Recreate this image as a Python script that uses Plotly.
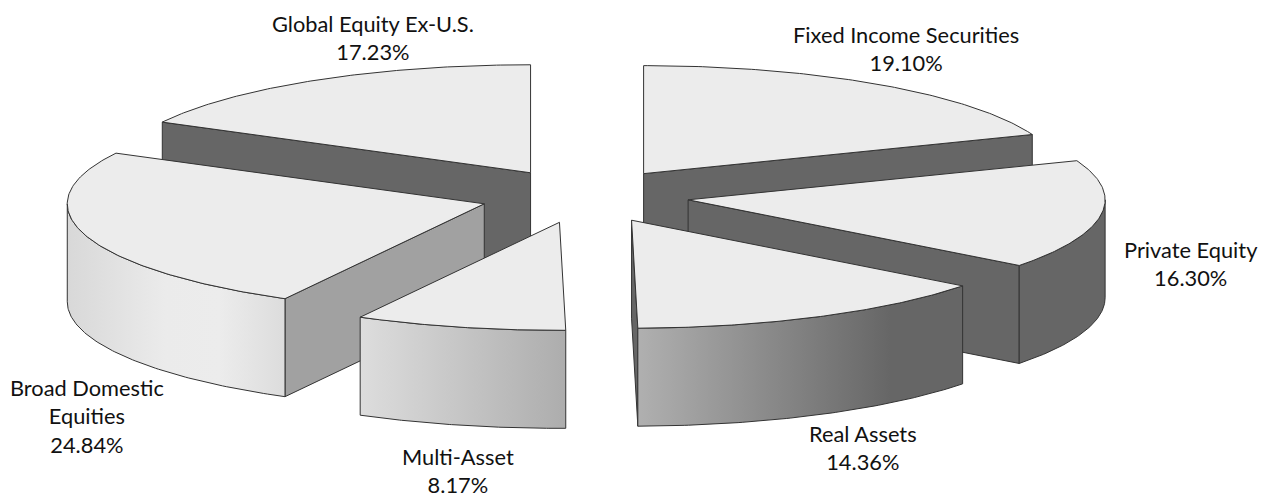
import numpy as np
import plotly.graph_objects as go

# ---- data ----
categories = ["Fixed Income Securities", "Private Equity", "Real Assets",
              "Multi-Asset", "Broad Domestic<br>Equities", "Global Equity Ex-U.S."]
shares = [19.10, 16.30, 14.36, 8.17, 24.84, 17.23]

# ---- geometry of the exploded tilted pie (pixels) ----
CX, CY = 584.5, 196.0
RX, RY = 417.0, 108.0
DEPTH = 98.0
EXPLODE = 0.251
PAGE_MARGIN = 8  # the browser's default body margin

TOP = "#ececec"
DARK = "#666666"
EDGE = "#333333"
cut_colour = [DARK, DARK, DARK, DARK, "#a1a1a1", DARK]
wall_scale = [
    [[0, DARK], [1, DARK]],
    [[0, DARK], [1, DARK]],
    [[0, "#b0b0b0"], [0.78, DARK], [1, DARK]],
    [[0, "#dddddd"], [1, "#adadad"]],
    [[0, "#d8d8d8"], [0.45, "#ebebeb"], [0.7, "#ececec"], [1, "#dcdcdc"]],
    [[0, DARK], [1, DARK]],
]
label_pos = [(906, 48), (1191, 263), (863, 447), (458, 470), (87, 416), (373, 37)]
draw_order = [5, 0, 4, 1, 3, 2]

total = sum(shares)
edges = np.cumsum([0] + shares) / total * 2 * np.pi


def rim(ax, ay, t):
    return ax + RX * np.sin(t), ay - RY * np.cos(t)


def poly(x, y, **kw):
    x = list(x) + [x[0]]
    y = list(y) + [y[0]]
    return go.Scatter(x=x, y=y, mode="lines", fill="toself", hoverinfo="skip",
                      showlegend=False, line=dict(color=EDGE, width=1), **kw)


fig = go.Figure()
for i in draw_order:
    a0, a1 = edges[i], edges[i + 1]
    mid = (a0 + a1) / 2
    ax = CX + EXPLODE * RX * np.sin(mid)
    ay = CY - EXPLODE * RY * np.cos(mid)

    # cut faces that look at the viewer
    for ang, visible in ((a0, np.sin(a0) < -1e-6), (a1, np.sin(a1) > 1e-6)):
        if visible:
            ex, ey = rim(ax, ay, ang)
            fig.add_trace(poly([ax, ex, ex, ax], [ay, ey, ey + DEPTH, ay + DEPTH],
                               fillcolor=cut_colour[i]))

    # outer wall: only the front half of the rim
    w0, w1 = max(a0, np.pi / 2), min(a1, 3 * np.pi / 2)
    if w1 > w0:
        t = np.linspace(w0, w1, 90)
        rx, ry = rim(ax, ay, t)
        fig.add_trace(poly(np.r_[rx, rx[::-1]], np.r_[ry, ry[::-1] + DEPTH],
                           fillgradient=dict(type="horizontal", colorscale=wall_scale[i])))

    # top surface
    t = np.linspace(a0, a1, 120)
    rx, ry = rim(ax, ay, t)
    fig.add_trace(poly(np.r_[ax, rx], np.r_[ay, ry], fillcolor=TOP))

for name, share, (lx, ly) in zip(categories, shares, label_pos):
    fig.add_annotation(x=lx, y=ly, xref="x", yref="y", text=f"{name}<br>{share:.2f}%",
                       showarrow=False, align="center", xanchor="center", yanchor="middle",
                       font=dict(family="Lato, Open Sans, sans-serif", size=21.8, color="#111111"))

fig.update_layout(
    width=1274 - PAGE_MARGIN, height=500 - PAGE_MARGIN, margin=dict(l=0, r=0, t=0, b=0),
    paper_bgcolor="white", plot_bgcolor="white", showlegend=False,
    xaxis=dict(range=[PAGE_MARGIN, 1274], visible=False, fixedrange=True),
    yaxis=dict(range=[500, PAGE_MARGIN], visible=False, fixedrange=True),
)
fig.write_html("out.html", config=dict(displayModeBar=False))
